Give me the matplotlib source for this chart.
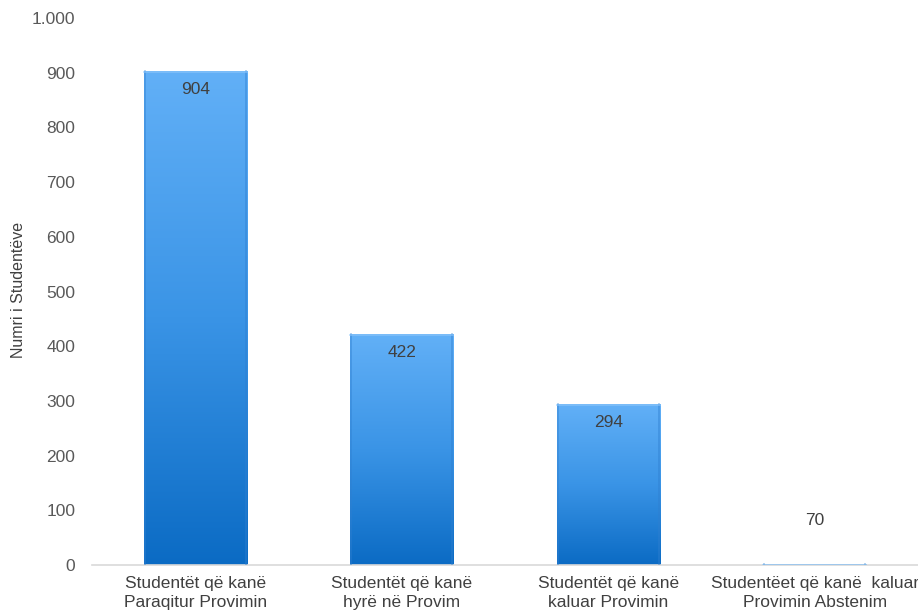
import numpy as np
import matplotlib.pyplot as plt
from matplotlib.colors import LinearSegmentedColormap
from matplotlib.ticker import FuncFormatter

plt.rcParams['font.family'] = ['Liberation Sans', 'DejaVu Sans']

categories = ['Studentët që kanë\nParaqitur Provimin',
              'Studentët që kanë\nhyrë në Provim',
              'Studentët që kanë\nkaluar Provimin',
              'Studentëet që kanë  kaluar\nProvimin Abstenim']
bar_heights = [904, 422, 294, 2]
value_labels = [904, 422, 294, 70]

fig = plt.figure(figsize=(9.18, 6.13), dpi=100)
ax = fig.add_axes([0.1002, 0.0783, 0.8998, 0.8923])

x = np.arange(len(categories))
width = 0.5
bars = ax.bar(x, bar_heights, width=width, color='none', edgecolor='none', zorder=2)

cmap = LinearSegmentedColormap.from_list('blue', ['#0b6bc4', '#3a94e6', '#62b0f7'])
grad = np.linspace(0, 1, 256).reshape(-1, 1)
for b in bars:
    x0, h = b.get_x(), b.get_height()
    if h <= 0:
        continue
    im = ax.imshow(grad, cmap=cmap, origin='lower', aspect='auto',
                   extent=[x0, x0 + width, 0, h], zorder=2)
    im.set_clip_path(b)
    # subtle bevel edges
    ax.plot([x0 + 0.006, x0 + 0.006], [0, h], color='#2f7fd0', lw=1.2, alpha=0.5, zorder=3)
    ax.plot([x0 + width - 0.006] * 2, [0, h], color='#2f7fd0', lw=1.2, alpha=0.5, zorder=3)
    ax.plot([x0, x0 + width], [h - 2, h - 2], color='#8cc6fb', lw=1.2, alpha=0.7, zorder=3)

for xi, h, v in zip(x, bar_heights, value_labels):
    if h >= v:
        ty = h - 34
    else:
        ty = v + 12
    ax.text(xi, ty, str(v), ha='center', va='center', fontsize=12.5, color='#404040', zorder=4)

ax.set_xlim(-0.5, len(categories) - 0.5)
ax.set_ylim(0, 1000)
ax.set_yticks(np.arange(0, 1001, 100))
ax.yaxis.set_major_formatter(FuncFormatter(lambda v, p: f'{int(v):,}'.replace(',', '.')))
ax.set_xticks(x)
ax.set_xticklabels(categories, fontsize=12.5, color='#404040', linespacing=1.3)
ax.tick_params(axis='y', length=0, labelsize=12.5, labelcolor='#595959', pad=12)
ax.tick_params(axis='x', length=0, pad=8)

for s in ['top', 'right', 'left']:
    ax.spines[s].set_visible(False)
ax.spines['bottom'].set_color('#d9d9d9')
ax.spines['bottom'].set_linewidth(1.2)

fig.text(19 / 918, 1 - 290 / 613, 'Numri i Studentëve', rotation=90, ha='center', va='center',
         fontsize=11.5, color='#404040')

fig.savefig('out.png', dpi=100)
